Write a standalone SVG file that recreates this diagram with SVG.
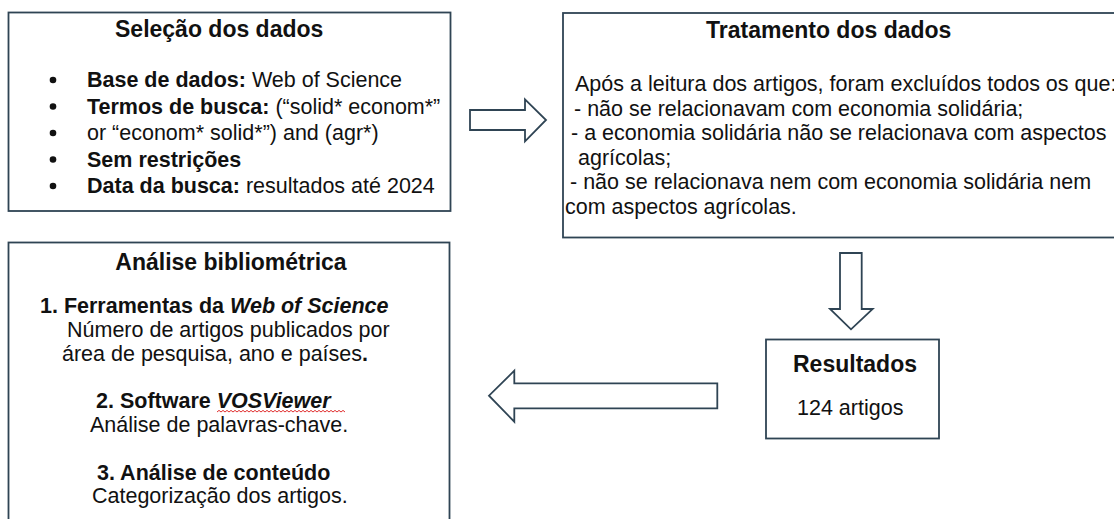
<svg xmlns="http://www.w3.org/2000/svg" width="1114" height="519" viewBox="0 0 1114 519">
<style>
.box{fill:#fff;stroke:#2f4454;stroke-width:1.8}
.arr{fill:#fff;stroke:#2f4454;stroke-width:1.8;stroke-linejoin:miter}
text{font-family:"Liberation Sans",Arial,sans-serif;fill:#111}
.t{font-size:23px;font-weight:bold}
.b{font-size:21.5px}
.bd{font-weight:bold}
.bi{font-weight:bold;font-style:italic}
.dot{fill:#111}
</style>
<rect width="1114" height="519" fill="#fff"/>

<g id="selecao">
<rect class="box" x="8.5" y="12.5" width="442" height="198.5"/>
<text class="t" x="115" y="37">Seleção dos dados</text>
<circle class="dot" cx="53" cy="80" r="3.3"/>
<circle class="dot" cx="53" cy="106.5" r="3.3"/>
<circle class="dot" cx="53" cy="133" r="3.3"/>
<circle class="dot" cx="53" cy="159.5" r="3.3"/>
<circle class="dot" cx="53" cy="186" r="3.3"/>
<text class="b" x="87" y="87"><tspan class="bd">Base de dados:</tspan> Web of Science</text>
<text class="b" x="87" y="113.5"><tspan class="bd">Termos de busca:</tspan> (“solid* econom*”</text>
<text class="b" x="87" y="140">or “econom* solid*”) and (agr*)</text>
<text class="b bd" x="87" y="166.5">Sem restrições</text>
<text class="b" x="87" y="193"><tspan class="bd">Data da busca:</tspan> resultados até 2024</text>
</g>

<g id="tratamento">
<rect class="box" x="563" y="13" width="600" height="224.5"/>
<text class="t" x="706" y="38">Tratamento dos dados</text>
<text class="b" x="575" y="91">Após a leitura dos artigos, foram excluídos todos os que:</text>
<text class="b" x="574" y="115.5">- não se relacionavam com economia solidária;</text>
<text class="b" x="571" y="140">- a economia solidária não se relacionava com aspectos</text>
<text class="b" x="578" y="164.5">agrícolas;</text>
<text class="b" x="570" y="189">- não se relacionava nem com economia solidária nem</text>
<text class="b" x="565" y="213.5">com aspectos agrícolas.</text>
</g>

<g id="resultados">
<rect class="box" x="766" y="339.5" width="173" height="99"/>
<text class="t" x="793" y="372">Resultados</text>
<text class="b" x="797" y="415">124 artigos</text>
</g>

<g id="analise">
<rect class="box" x="8.5" y="242.5" width="441" height="300"/>
<text class="t" x="231" y="270" text-anchor="middle">Análise bibliométrica</text>
<text class="b bd" x="40" y="312.7">1. Ferramentas da <tspan class="bi">Web of Science</tspan></text>
<text class="b" x="67" y="336.7">Número de artigos publicados por</text>
<text class="b" x="62" y="360.5">área de pesquisa, ano e países<tspan class="bd">.</tspan></text>
<text class="b bd" x="96" y="408.3">2. Software <tspan class="bi">VOSViewer</tspan></text>
<path d="M217 412l2 -1.6l2 1.6l2 -1.6l2 1.6l2 -1.6l2 1.6l2 -1.6l2 1.6l2 -1.6l2 1.6l2 -1.6l2 1.6l2 -1.6l2 1.6l2 -1.6l2 1.6l2 -1.6l2 1.6l2 -1.6l2 1.6l2 -1.6l2 1.6l2 -1.6l2 1.6l2 -1.6l2 1.6l2 -1.6l2 1.6l2 -1.6l2 1.6l2 -1.6l2 1.6l2 -1.6l2 1.6l2 -1.6l2 1.6l2 -1.6l2 1.6l2 -1.6l2 1.6l2 -1.6l2 1.6l2 -1.6l2 1.6l2 -1.6l2 1.6l2 -1.6l2 1.6l2 -1.6l2 1.6l2 -1.6l2 1.6l2 -1.6l2 1.6l2 -1.6l2 1.6l2 -1.6l2 1.6l2 -1.6l2 1.6l2 -1.6l2 1.6l2 -1.6l2 1.6" fill="none" stroke="#e03030" stroke-width="1"/>
<text class="b" x="90" y="431.7">Análise de palavras-chave.</text>
<text class="b bd" x="97" y="480">3. Análise de conteúdo</text>
<text class="b" x="92" y="503.3">Categorização dos artigos.</text>
</g>

<g id="connectors">
<path class="arr" d="M470 110H525V99.3L546 120L525 141.3V130H470Z"/>
<path class="arr" d="M840 253H861.7V309H872.7L851 329.3L830 309H840Z"/>
<path class="arr" d="M717.3 383.3H514.3V370.7L489 395.7L514.3 421.7V408.3H717.3Z"/>
</g>
</svg>
